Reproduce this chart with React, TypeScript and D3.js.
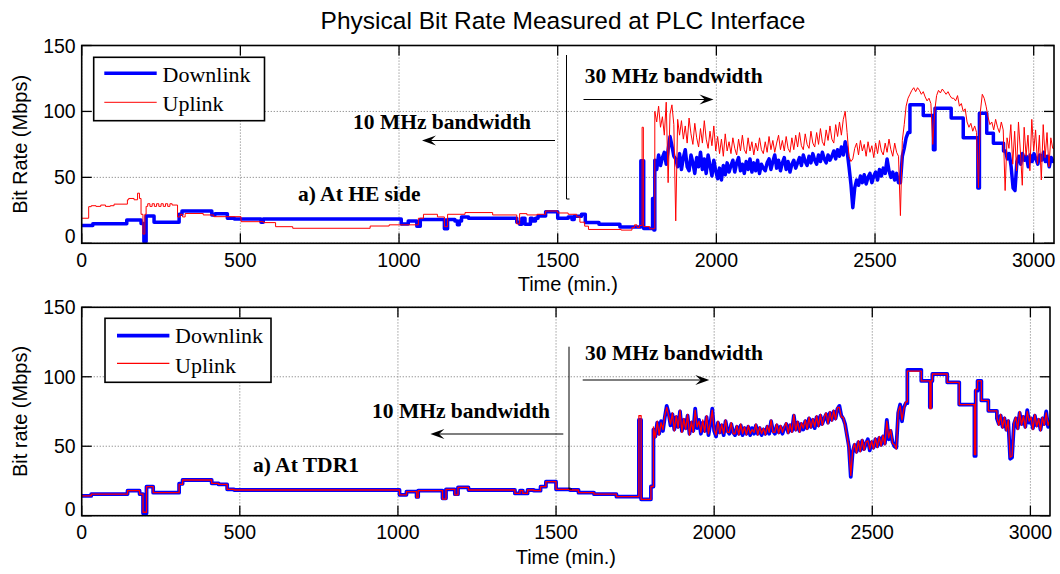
import React from "react";
import * as d3 from "d3";

type Pt = [number, number];
type Run = { t0: number; dt: number; v: number[] };

// ---------------- shared labels / ticks ----------------
const TITLE = "Physical Bit Rate Measured at PLC Interface";
const SERIES_NAMES = ["Downlink", "Uplink"];
const X_TICKS = [0, 500, 1000, 1500, 2000, 2500, 3000];
const Y_TICKS = [0, 50, 100, 150];
const X_LABEL = "Time (min.)";
const Y_LABEL_TOP = "Bit Rate (Mbps)";
const Y_LABEL_BOTTOM = "Bit rate (Mbps)";
const NOTE_10 = "10 MHz bandwidth";
const NOTE_30 = "30 MHz bandwidth";
const NOTE_HE = "a) At HE side";
const NOTE_TDR = "a) At TDR1";

const X_MAX_TOP = 3064;
const X_MAX_BOTTOM = 3062;

// ---------------- top panel: HE side ----------------
const HE_DOWN_STEPS: Pt[] = [
  [0, 13.5], [35, 14.8], [142, 17.7], [187, 15], [196, 1.2], [203, 20.7], [228, 15.9],
  [307, 22], [316, 24.5], [410, 21.5], [420, 22.5], [459, 19], [481, 18.4], [565, 16],
  [572, 18.4], [1007, 14.6], [1029, 17], [1056, 13], [1067, 18], [1143, 11], [1153, 18],
  [1176, 17], [1184, 14], [1190, 17], [1197, 20], [1219, 19], [1371, 16], [1380, 14.5],
  [1387, 19], [1397, 14.5], [1414, 19], [1420, 17], [1430, 19], [1438, 20.7], [1462, 24],
  [1500, 19], [1533, 20], [1545, 18], [1552, 20.5], [1575, 22], [1587, 15.8], [1630, 14.5],
  [1696, 12.4], [1762, 62.6], [1771, 11.3], [1799, 34], [1803, 10],
];
const HE_DOWN_RUN1: Run = {
  t0: 1806, dt: 6, v: [
    63, 56, 67, 59, 65, 69, 60, 71, 81, 74, 66, 64, 58, 68, 56, 65, 71, 58, 55, 67, 61, 53, 65, 58, 69,
    56, 64, 53, 67, 59, 51, 63, 55, 49, 57, 48, 59, 52, 61, 54, 59, 63, 54, 61, 65, 55, 60, 53, 62, 56,
    64, 54, 61, 55, 63, 53, 60, 57, 55, 61, 64, 56, 62, 67, 57, 63, 55, 61, 65, 56, 62, 54, 60, 63, 57,
    61, 65, 59, 67, 62, 59, 66, 61, 68, 63, 60, 67, 62, 69, 64, 61, 67, 63, 66, 70, 64, 71, 66, 73, 67,
    77, 70, 58, 45, 27, 42, 48, 44, 51, 46, 52, 45, 50, 53, 46, 51, 54, 48, 56, 51, 57, 53, 64, 55, 50,
    54, 48, 53, 46, 46, 66, 72, 80, 84,
  ],
};
const HE_DOWN_STEPS2: Pt[] = [
  [2610, 105], [2652, 97], [2684, 71], [2689, 102.5], [2740, 95], [2778, 80], [2824, 42],
  [2829, 98.6], [2852, 83.4], [2873, 75.8], [2905, 70],
];
const HE_DOWN_RUN2: Run = {
  t0: 2911, dt: 6, v: [
    70, 64, 68, 58, 42, 40, 62, 66, 60, 68, 63, 66, 58, 67, 62, 68, 64, 60, 67, 63, 69, 62, 66, 58, 65, 62,
  ],
};

const HE_UP_STEPS: Pt[] = [
  [0, 19], [22, 27.8], [30, 28.5], [45, 28], [60, 29], [75, 28], [90, 28.5], [102, 29.7],
  [144, 33], [148, 34], [165, 33], [176, 38], [182, 34], [187, 22], [193, 7], [199, 22],
  [203, 28], [208, 30], [215, 28], [222, 30], [229, 28], [236, 30], [243, 28], [250, 30],
  [257, 28], [264, 30], [271, 28], [278, 30], [285, 29], [302, 20], [310, 22], [318, 20],
  [326, 22.6], [383, 21.5], [416, 20.2], [502, 16.4], [573, 15.7], [611, 12.6], [665, 11.4],
  [909, 13.1], [969, 14], [1061, 19], [1077, 22], [1121, 20], [1143, 12.6], [1153, 22],
  [1208, 23.3], [1295, 21.5], [1371, 14.7], [1380, 22.5], [1403, 21.5], [1435, 22],
  [1462, 24.5], [1500, 23], [1533, 22], [1560, 20], [1570, 16], [1585, 13], [1597, 10.5],
  [1700, 10], [1734, 12], [1742, 14], [1750, 12], [1758, 13.5], [1766, 88], [1770, 12.7],
  [1790, 11],
];
const HE_UP_RUN: Run = {
  t0: 1806, dt: 6, v: [
    100, 92, 104, 88, 96, 82, 107, 46, 98, 105, 90, 17,
    94, 82, 93, 79, 89, 76, 95, 83, 75, 91, 80, 73, 87,
    76, 93, 79, 72, 85, 74, 89, 70, 81, 68, 79, 66, 83, 70, 77,
    68, 80, 72, 67, 79, 70, 82, 71, 68, 80, 70, 77, 67, 76, 70, 80, 71, 68,
    77, 69, 81, 71, 78, 69, 76, 82, 71, 78, 70, 81, 72, 69, 80, 71, 82,
    73, 84, 74, 71, 83, 75, 72, 85, 76, 73, 84, 75, 87, 77, 74, 86, 78, 89,
    79, 76, 90, 81, 92, 82, 94, 100, 84, 66, 62,
    64, 72, 76, 67, 78, 70, 75, 66, 77, 69, 74, 65, 76, 68, 78, 70, 67, 76, 69, 79, 71, 66, 76, 69, 66,
    21,
    78, 90, 104, 110, 113, 116, 118, 115, 118, 116, 113, 115, 111, 108, 110, 106,
    75,
    100, 112, 116, 114, 117, 115, 113, 115, 112, 110,
    110, 108, 112, 104, 106, 100, 102, 92, 88, 91, 85, 89, 84,
    42,
    100, 113, 110, 104, 96, 90, 92, 86, 94, 88, 84, 92, 86,
    40, 80, 72, 90, 60, 85, 55, 92, 70, 44, 88, 66, 82, 55, 94, 70, 86, 60, 82, 48, 90, 65, 84, 58, 80, 72,
  ],
};

// ---------------- bottom panel: TDR1 ----------------
const TDR_DOWN_STEPS: Pt[] = [
  [0, 14.2], [30, 15.6], [145, 18], [183, 15.6], [194, 1.7], [205, 20.9], [226, 16.6],
  [308, 23], [319, 25.7], [411, 23.3], [433, 22.5], [460, 19], [482, 18.5], [1005, 15],
  [1027, 17.3], [1059, 13.5], [1064, 18], [1141, 12.5], [1152, 19], [1180, 15.5], [1190, 20.4],
  [1223, 18.5], [1370, 16], [1386, 18], [1395, 16], [1410, 18.5], [1430, 18], [1451, 20.9],
  [1468, 24.5], [1500, 19], [1544, 18.5], [1571, 16.6], [1620, 15.5], [1691, 13.7],
  [1762, 68.9], [1769, 11.8], [1800, 21],
];
const TDR_DOWN_RUN1: Run = {
  t0: 1808, dt: 6, v: [
    62, 57, 67, 59, 68, 61, 71, 79, 74, 65, 73, 62, 71, 64, 75, 61, 69, 63, 72, 59,
    67, 61, 77, 63, 69, 59, 67, 61, 71, 58, 66, 77, 61, 57, 67, 60, 65, 58, 68, 61,
    59, 66, 60, 58, 64, 59, 65, 58, 63, 59, 64, 58, 63, 59, 65, 59, 63, 58, 62, 59,
    64, 59, 68, 61, 59, 65, 60, 64, 59, 63, 66, 60, 65, 61, 72, 62, 67, 61, 66, 62,
    68, 63, 70, 64, 69, 63, 71, 65, 72, 66, 70, 73, 67, 74, 69, 75, 70, 77, 79, 72,
    70, 66, 58, 50, 28, 46, 51, 46, 53, 47, 54, 48, 52, 55, 47, 53, 49, 55, 50, 56,
    51, 57, 52, 69, 55, 61, 53, 50, 49, 74, 80, 68, 78, 81,
  ],
};
const TDR_DOWN_STEPS2: Pt[] = [
  [2611, 105], [2655, 97], [2682, 78], [2686, 97], [2690, 102], [2737, 96], [2775, 80],
  [2823, 43], [2827, 90], [2833, 97], [2845, 83], [2867, 75.5],
];
const TDR_DOWN_RUN2: Run = {
  t0: 2894, dt: 6, v: [
    70, 66, 72, 64, 70, 62, 68, 41, 42, 66, 70, 63, 74, 66, 71, 64, 76, 67, 70, 63,
    72, 65, 69, 62, 70, 66, 75, 64, 68,
  ],
};

const TDR_UP_STEPS: Pt[] = [
  [0, 14.2], [30, 15.6], [145, 18], [183, 15.6], [194, 2.5], [205, 20.9], [226, 16.6],
  [308, 22.5], [319, 25.7], [411, 23.3], [433, 22.5], [460, 19], [482, 18.5], [1005, 15],
  [1027, 17.3], [1059, 13], [1064, 18], [1141, 12], [1152, 19], [1180, 15], [1190, 20.4],
  [1223, 18.5], [1370, 16], [1386, 18], [1395, 16], [1410, 18.5], [1430, 18], [1451, 20.9],
  [1468, 24.5], [1500, 19], [1544, 18.5], [1571, 16.6], [1620, 15.5], [1691, 13.7],
  [1762, 72], [1769, 11.8], [1800, 21],
];
const TDR_UP_RUN1: Run = {
  t0: 1808, dt: 6, v: [
    64, 56, 68, 58, 67, 62, 72, 78, 72, 66, 74, 61, 72, 63, 76, 60, 70, 62, 73, 58,
    68, 60, 76, 64, 68, 60, 69, 60, 72, 59, 67, 76, 62, 58, 68, 59, 66, 59, 69, 60,
    60, 67, 59, 59, 65, 58, 66, 59, 64, 58, 65, 59, 62, 60, 66, 58, 64, 59, 63, 58,
    65, 60, 69, 60, 60, 66, 59, 65, 60, 64, 67, 59, 66, 60, 73, 61, 68, 60, 67, 63,
    69, 62, 71, 63, 70, 64, 72, 64, 73, 65, 71, 74, 66, 75, 68, 76, 69, 78, 78, 71,
    71, 65, 57, 49, 29, 47, 52, 45, 54, 46, 55, 47, 53, 54, 48, 54, 48, 56, 49, 57,
    50, 58, 51, 68, 56, 62, 52, 51, 48, 75, 79, 69, 77, 82,
  ],
};
const TDR_UP_STEPS2: Pt[] = [
  [2611, 104], [2655, 97], [2682, 77], [2686, 97], [2690, 102], [2737, 96], [2775, 80],
  [2823, 44], [2827, 91], [2833, 97], [2845, 83], [2867, 75.5],
];
const TDR_UP_RUN2: Run = {
  t0: 2894, dt: 6, v: [
    71, 65, 73, 63, 71, 61, 69, 42, 43, 67, 71, 62, 75, 65, 72, 63, 75, 68, 71, 62,
    73, 64, 70, 61, 71, 65, 74, 65, 69,
  ],
};

// ---------------- helpers ----------------
// Step breakpoints are held flat until the next breakpoint; sampled runs are joined linearly.
function assemble(parts: (Pt[] | Run)[], end: number): Pt[] {
  const out: Pt[] = [];
  const push = (t: number, v: number, stepped: boolean) => {
    if (stepped && out.length) out.push([t, out[out.length - 1][1]]);
    out.push([t, v]);
  };
  for (const p of parts) {
    if (Array.isArray(p)) p.forEach(([t, v]) => push(t, v, true));
    else p.v.forEach((v, i) => push(p.t0 + i * p.dt, v, i === 0));
  }
  out.push([end, out[out.length - 1][1]]);
  return out;
}

const SANS = "'Liberation Sans', Arial, Helvetica, sans-serif";
const SERIF = "'Liberation Serif', 'Times New Roman', Times, serif";

type Box = { l: number; r: number; t: number; b: number };

function Arrow({ x1, x2, y }: { x1: number; x2: number; y: number }) {
  const dir = Math.sign(x2 - x1);
  const L = 14, W = 5;
  const head = `M${x2},${y} L${x2 - dir * L},${y - W} L${x2 - dir * L * 0.62},${y} L${x2 - dir * L},${y + W} Z`;
  return (
    <g>
      <line x1={x1} x2={x2 - dir * L * 0.6} y1={y} y2={y} stroke="#000" strokeWidth={1.2} />
      <path d={head} fill="#000" />
    </g>
  );
}

function Panel(props: {
  id: string;
  box: Box;
  xMax: number;
  yLabel: string;
  down: Pt[];
  up: Pt[];
  downW: number;
  upW: number;
  legend: { x: number; y: number; w: number; h: number; lx1: number; lx2: number; y1: number; y2: number; tx: number; b1: number; b2: number };
}) {
  const { box, xMax, down, up, legend } = props;
  const x = d3.scaleLinear().domain([0, xMax]).range([box.l, box.r]);
  const y = d3.scaleLinear().domain([0, 150]).range([box.b, box.t]);
  const line = d3
    .line<Pt>()
    .x((d) => x(d[0]))
    .y((d) => y(d[1]));
  const tickLen = 10;
  const cx = (box.l + box.r) / 2;
  const cy = (box.t + box.b) / 2;
  return (
    <g>
      <defs>
        <clipPath id={`clip-${props.id}`}>
          <rect x={box.l} y={box.t} width={box.r - box.l} height={box.b - box.t} />
        </clipPath>
      </defs>
      <rect x={box.l} y={box.t} width={box.r - box.l} height={box.b - box.t} fill="#fff" />
      {X_TICKS.map((t) => (
        <line key={`gx${t}`} x1={x(t)} x2={x(t)} y1={box.t} y2={box.b} stroke="#8a8a8a" strokeWidth={1} strokeDasharray="1.2 1.8" />
      ))}
      {Y_TICKS.map((t) => (
        <line key={`gy${t}`} x1={box.l} x2={box.r} y1={y(t)} y2={y(t)} stroke="#8a8a8a" strokeWidth={1} strokeDasharray="1.2 1.8" />
      ))}
      {X_TICKS.map((t) => (
        <g key={`tx${t}`}>
          <line x1={x(t)} x2={x(t)} y1={box.b} y2={box.b - tickLen} stroke="#000" strokeWidth={1.3} />
          <line x1={x(t)} x2={x(t)} y1={box.t} y2={box.t + tickLen} stroke="#000" strokeWidth={1.3} />
          <text x={x(t)} y={box.b + 23.5} textAnchor="middle" fontFamily={SANS} fontSize={19.5} fill="#000">
            {t}
          </text>
        </g>
      ))}
      {Y_TICKS.map((t) => (
        <g key={`ty${t}`}>
          <line x1={box.l} x2={box.l + tickLen} y1={y(t)} y2={y(t)} stroke="#000" strokeWidth={1.3} />
          <line x1={box.r} x2={box.r - tickLen} y1={y(t)} y2={y(t)} stroke="#000" strokeWidth={1.3} />
          <text x={box.l - 6} y={y(t) - (t === 0 ? 7 : 0)} dy="0.36em" textAnchor="end" fontFamily={SANS} fontSize={19.5} fill="#000">
            {t}
          </text>
        </g>
      ))}
      <g clipPath={`url(#clip-${props.id})`}>
        <path d={line(down) || ""} fill="none" stroke="#0000ff" strokeWidth={props.downW} strokeLinejoin="round" />
        <path d={line(up) || ""} fill="none" stroke="#ff0000" strokeWidth={props.upW} strokeLinejoin="round" />
      </g>
      <rect x={box.l} y={box.t} width={box.r - box.l} height={box.b - box.t} fill="none" stroke="#000" strokeWidth={1.6} />
      <text x={cx} y={box.b + 48} textAnchor="middle" fontFamily={SANS} fontSize={20} fill="#000">
        {X_LABEL}
      </text>
      <text transform={`translate(27,${cy}) rotate(-90)`} textAnchor="middle" fontFamily={SANS} fontSize={20} fill="#000">
        {props.yLabel}
      </text>
      <rect x={legend.x} y={legend.y} width={legend.w} height={legend.h} fill="#fff" stroke="#000" strokeWidth={1.6} />
      <line x1={legend.lx1} x2={legend.lx2} y1={legend.y1} y2={legend.y1} stroke="#0000ff" strokeWidth={props.downW} />
      <line x1={legend.lx1} x2={legend.lx2} y1={legend.y2} y2={legend.y2} stroke="#ff0000" strokeWidth={props.upW} />
      <text x={legend.tx} y={legend.b1} fontFamily={SERIF} fontSize={22} fill="#000">
        {SERIES_NAMES[0]}
      </text>
      <text x={legend.tx} y={legend.b2} fontFamily={SERIF} fontSize={22} fill="#000">
        {SERIES_NAMES[1]}
      </text>
    </g>
  );
}

export default function App() {
  const heDown = assemble([HE_DOWN_STEPS, HE_DOWN_RUN1, HE_DOWN_STEPS2, HE_DOWN_RUN2], X_MAX_TOP);
  const heUp = assemble([HE_UP_STEPS, HE_UP_RUN], X_MAX_TOP);
  const tdrDown = assemble([TDR_DOWN_STEPS, TDR_DOWN_RUN1, TDR_DOWN_STEPS2, TDR_DOWN_RUN2], X_MAX_BOTTOM);
  const tdrUp = assemble([TDR_UP_STEPS, TDR_UP_RUN1, TDR_UP_STEPS2, TDR_UP_RUN2], X_MAX_BOTTOM);

  const boldNote = { fontFamily: SERIF, fontSize: 21.5, fontWeight: 700 as const, fill: "#000" };

  return (
    <svg width={1060} height={574} style={{ position: "absolute", left: 0, top: 0, background: "#fff" }}>
      <rect x={0} y={0} width={1060} height={574} fill="#fff" />
      <text x={563} y={29} textAnchor="middle" fontFamily={SANS} fontSize={24.5} fill="#000">
        {TITLE}
      </text>

      <Panel
        id="top"
        box={{ l: 81.7, r: 1054, t: 45.5, b: 243.3 }}
        xMax={X_MAX_TOP}
        yLabel={Y_LABEL_TOP}
        down={heDown}
        up={heUp}
        downW={3.5}
        upW={1}
        legend={{ x: 93.7, y: 57.3, w: 170.8, h: 63.4, lx1: 104.3, lx2: 156.7, y1: 73.3, y2: 102.3, tx: 162.5, b1: 81.5, b2: 111 }}
      />
      <Panel
        id="bottom"
        box={{ l: 81.7, r: 1050, t: 307.3, b: 515.7 }}
        xMax={X_MAX_BOTTOM}
        yLabel={Y_LABEL_BOTTOM}
        down={tdrDown}
        up={tdrUp}
        downW={3.8}
        upW={1.3}
        legend={{ x: 105, y: 318.3, w: 166, h: 64, lx1: 117, lx2: 169.4, y1: 335.7, y2: 363.3, tx: 175, b1: 343.3, b2: 373 }}
      />

      <text x={353} y={129.3} {...boldNote}>{NOTE_10}</text>
      <Arrow x1={555} x2={422} y={140.5} />
      <path d="M566.5,55 L566.5,199 L569.5,199" fill="none" stroke="#000" strokeWidth={1} />
      <text x={584.7} y={83.3} {...boldNote}>{NOTE_30}</text>
      <Arrow x1={583.5} x2={713.5} y={99.5} />
      <text x={298} y={200.7} {...boldNote}>{NOTE_HE}</text>

      <text x={372} y={418.3} {...boldNote}>{NOTE_10}</text>
      <Arrow x1={563.3} x2={430.4} y={434} />
      <path d="M569,346.7 L569,489 L572,489" fill="none" stroke="#000" strokeWidth={1} />
      <text x={585} y={360} {...boldNote}>{NOTE_30}</text>
      <Arrow x1={582.7} x2={709.3} y={380} />
      <text x={253} y={471.7} {...boldNote}>{NOTE_TDR}</text>
    </svg>
  );
}
